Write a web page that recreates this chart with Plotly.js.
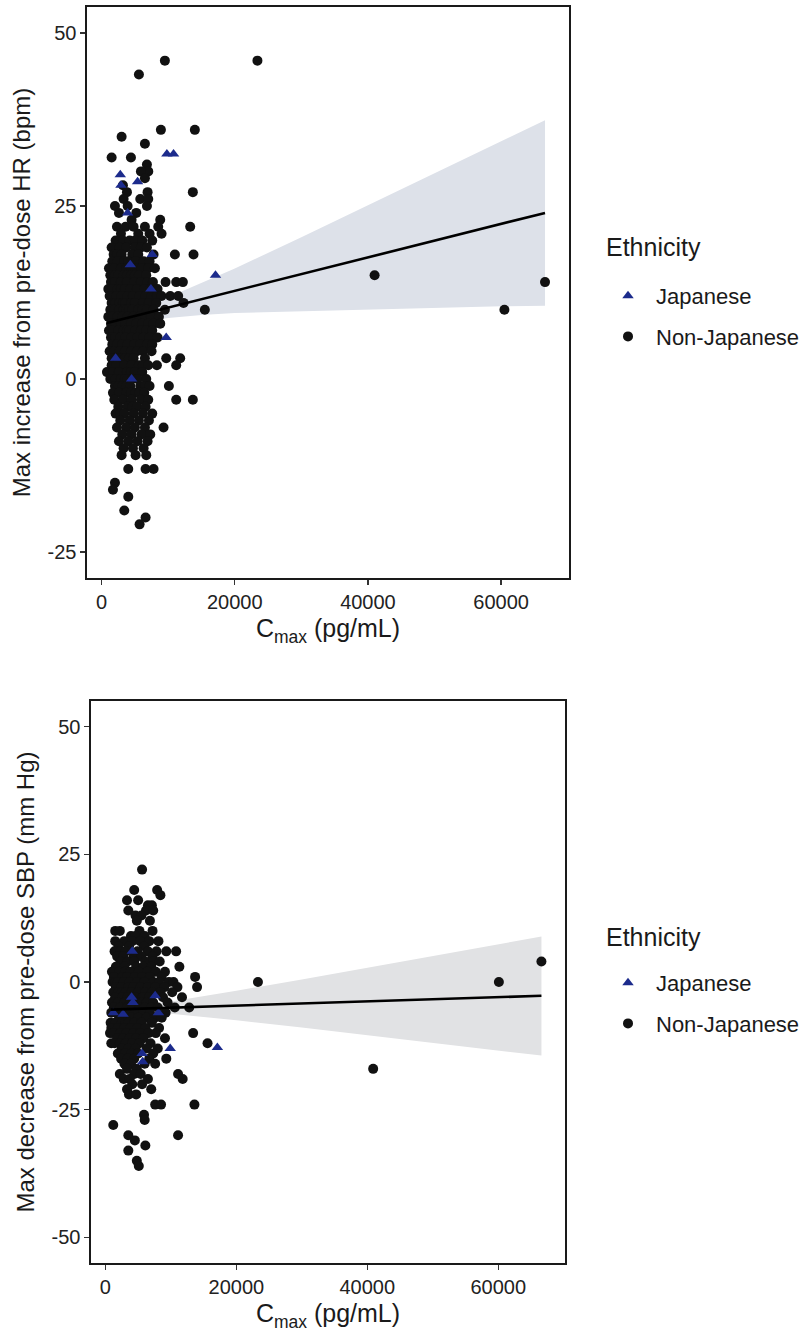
<!DOCTYPE html>
<html>
<head>
<meta charset="utf-8">
<script src="https://cdn.plot.ly/plotly-3.0.1.min.js"></script>
<style>
  html, body { margin: 0; padding: 0; background: #ffffff; }
  #chart { width: 809px; height: 1333px; }
</style>
</head>
<body>
<div id="chart"></div>
<script>
// ---- Heart rate panel: max increase from pre-dose HR (bpm) vs Cmax (pg/mL) ----
// Non-Japanese subjects, grouped by HR change: [bpm, [Cmax values]]
const hrNonJapaneseRows = [
  [46, [9500, 23400]],
  [44, [5600]],
  [36, [8900, 14000]],
  [35, [3000]],
  [34, [6500]],
  [32, [1500, 4400]],
  [31, [6800]],
  [30, [7000, 5900]],
  [29, [6500]],
  [28, [3200]],
  [27, [3800, 6900, 13700]],
  [26, [3300, 5800, 7000]],
  [25, [2000, 3900, 6800]],
  [24, [2600, 5200]],
  [23, [4500, 8800]],
  [22, [2300, 3600, 4800, 6500, 8500, 13300]],
  [21, [2900, 5500, 7200, 9000]],
  [20, [2100, 3200, 4200, 5000, 6100, 7600]],
  [19, [1500, 2700, 3700, 5000, 5900, 6800]],
  [18, [1800, 2300, 3000, 4600, 5500, 7800, 11000, 13800]],
  [17, [1600, 2400, 3400, 4000, 5100, 6300, 7200]],
  [16, [1100, 1900, 2900, 3700, 4400, 5100, 6000, 7000, 8000]],
  [15, [1300, 2000, 2500, 3300, 3800, 4400, 5000, 5600, 6700, 41000]],
  [14, [1400, 2000, 2900, 3800, 4900, 5900, 6900, 7700, 9600, 11200, 12200, 66600]],
  [13, [1000, 1600, 2400, 2900, 3500, 4300, 5300, 6400, 7300, 8400]],
  [12, [1200, 2200, 3000, 3900, 4700, 5700, 6600, 7500, 8300, 9000, 10300, 11500]],
  [11, [1500, 2100, 2700, 3200, 3600, 4500, 5000, 6200, 7100, 8200, 12300]],
  [10, [1300, 1900, 2600, 3300, 3700, 4100, 4600, 5500, 6100, 6800, 7800, 9500, 15500, 60500]],
  [9, [1000, 1600, 2400, 3100, 3900, 4800, 5700, 6600, 7400, 8600]],
  [8, [1400, 2100, 2900, 3600, 4400, 5200, 6100, 7000, 7800, 8800]],
  [7, [1100, 1700, 2500, 3300, 3800, 4200, 5100, 5900, 6700, 7600]],
  [6, [1400, 2000, 2800, 3600, 4500, 5400, 6300, 7200, 8400]],
  [5, [1600, 2300, 3100, 3900, 4900, 5800, 6800, 7600]],
  [4, [1200, 1900, 2700, 3500, 4400, 5300, 6200, 7500]],
  [3, [1500, 2200, 2900, 3500, 4100, 4800, 6500, 9700, 11800]],
  [2, [1500, 2200, 3400, 4500, 5600, 6200, 7000, 8300, 11200]],
  [1, [800, 1700, 2600, 3800, 4400, 5000, 6100]],
  [0, [1300, 2100, 2900, 3500, 3900, 4600, 5400, 6700]],
  [-1, [2000, 2500, 3100, 3700, 4300, 5800, 6500, 7200, 10100]],
  [-2, [1700, 2600, 3700, 4400, 5100, 5700, 6400]],
  [-3, [1900, 3200, 4500, 5900, 7000, 11200, 13700]],
  [-4, [2500, 3900, 4600, 5300, 6600]],
  [-5, [2100, 2800, 3400, 4800, 6200, 7600]],
  [-6, [2800, 4200, 5600, 7100]],
  [-7, [2300, 3700, 5000, 6500, 9300]],
  [-8, [3100, 4500, 6000, 7300]],
  [-9, [2600, 4000, 5400, 6900]],
  [-10, [3300, 4700, 6300]],
  [-11, [3000, 5100, 6700]],
  [-13, [4000, 6600, 7800]],
  [-15, [2000]],
  [-16, [1700]],
  [-17, [4000]],
  [-19, [3400]],
  [-20, [6600]],
  [-21, [5700]]
];
// Japanese subjects
const hrJapaneseCmax = [2800, 2900, 5400, 3900, 7600, 4300, 7400, 9700, 2100, 4500, 9800, 10800, 17100];
const hrJapaneseChange = [29.5, 28, 28.5, 24, 18, 16.5, 13, 6, 3, 0, 32.5, 32.5, 15];
// Linear fit and its 95% confidence band
const hrFitCmax = [800, 66600];
const hrFitValue = [8.1, 24.0];
const hrBandCmax = [800, 5000, 10000, 15000, 20000, 30000, 40000, 50000, 60000, 66600];
const hrBandLower = [6.7, 8.1, 8.8, 9.25, 9.55, 9.8, 10.0, 10.2, 10.5, 10.6];
const hrBandUpper = [9.5, 10.1, 11.8, 13.85, 15.95, 20.5, 25.1, 29.7, 34.3, 37.4];

// ---- Blood pressure panel: max decrease from pre-dose SBP (mm Hg) vs Cmax ----
const sbpNonJapaneseRows = [
  [22, [5600]],
  [18, [4400, 7900]],
  [17, [8400]],
  [16, [3300, 5000]],
  [15, [6500, 7100]],
  [14, [3500, 6200, 7300]],
  [13, [4600, 5500]],
  [12, [4800, 6800]],
  [10, [1500, 2200, 5200, 7200]],
  [9, [3900, 4600, 6000]],
  [8, [1500, 2900, 4100, 5300, 6700, 8100]],
  [7, [2000, 3600, 5900]],
  [6, [1400, 2300, 3100, 4900, 6500, 7800, 9300, 10800]],
  [5, [1800, 2700, 4300, 5500, 7200]],
  [4, [2300, 3400, 4400, 6100, 7300, 8300, 66600]],
  [3, [1600, 2900, 4700, 5800, 7000, 11300]],
  [2, [1000, 2100, 3000, 3800, 5100, 6400, 7700, 9100]],
  [1, [1300, 2600, 3300, 4500, 5600, 6800, 8600, 13700]],
  [0, [1100, 1500, 1900, 2800, 3700, 4900, 5900, 7300, 8200, 9700, 10400, 23300, 60100]],
  [-1, [1600, 2400, 3500, 4300, 5400, 6500, 7600, 9000, 11000, 14000]],
  [-2, [1200, 2000, 2500, 3100, 4000, 5000, 6100, 7100, 8400, 10200]],
  [-3, [1500, 2600, 3400, 4600, 5700, 6700, 8800, 11700]],
  [-4, [1000, 1900, 2900, 3800, 4800, 5500, 6300, 7300, 9500]],
  [-5, [1300, 2300, 3300, 4200, 5200, 6000, 7000, 8000, 10600, 12800]],
  [-6, [900, 1700, 2700, 3600, 4500, 5800, 6800, 9200]],
  [-7, [2100, 3000, 4000, 5000, 6300, 7500, 8600]],
  [-8, [800, 1500, 2500, 3000, 3500, 4400, 5500, 7100]],
  [-9, [900, 1900, 2900, 3800, 4900, 6100, 8200]],
  [-10, [700, 1200, 2300, 3200, 4300, 5300, 6600, 7700, 13400]],
  [-11, [1800, 2700, 3700, 4700, 5800, 9100]],
  [-12, [900, 1400, 2200, 3100, 4100, 5200, 6900, 15600]],
  [-13, [2500, 3500, 4600, 6300, 8000]],
  [-14, [1900, 3000, 4000, 5000, 7300]],
  [-15, [2400, 3400, 4400, 6700, 9300]],
  [-16, [2900, 3900, 6000, 7600]],
  [-17, [3300, 4800, 40900]],
  [-18, [2200, 4400, 5400, 11100]],
  [-19, [2800, 3700, 6500, 11800]],
  [-20, [4100, 5600]],
  [-21, [3300, 7000]],
  [-22, [3600, 4700]],
  [-24, [7600, 8500, 13600]],
  [-26, [5900]],
  [-27, [6000]],
  [-28, [1200]],
  [-30, [3500, 11100]],
  [-31, [4500]],
  [-32, [6100]],
  [-33, [3500]],
  [-35, [4800]],
  [-36, [5100]]
];
const sbpJapaneseCmax = [4100, 2700, 4000, 4200, 7600, 8100, 9900, 5600, 5700, 1200, 17100];
const sbpJapaneseChange = [6, -6.3, -3, -4, -2.7, -6, -13, -14, -15.6, -6, -12.8];
const sbpFitCmax = [800, 66600];
const sbpFitValue = [-5.4, -2.7];
const sbpBandCmax = [800, 5000, 10000, 15000, 20000, 30000, 40000, 50000, 60000, 66600];
const sbpBandLower = [-6.5, -6.0, -6.2, -6.8, -7.5, -8.9, -10.4, -11.9, -13.4, -14.4];
const sbpBandUpper = [-4.3, -4.4, -3.8, -2.8, -1.7, 0.5, 2.8, 5.1, 7.4, 8.9];

// ---- Axis ticks and labels ----
const cmaxTicks = [0, 20000, 40000, 60000];
const cmaxTickText = ['0', '20000', '40000', '60000'];
const hrTicks = [-25, 0, 25, 50];
const sbpTicks = [-50, -25, 0, 25, 50];
const groupNames = ['Japanese', 'Non-Japanese'];
const legendTitle = 'Ethnicity';
const xTitle = 'C<sub>max</sub> (pg/mL)';
const hrTitle = 'Max increase from pre-dose HR (bpm)';
const sbpTitle = 'Max decrease from pre-dose SBP (mm Hg)';

function flattenRows(rows) {
  const xs = [], ys = [];
  rows.forEach(([y, list]) => list.forEach(x => { xs.push(x); ys.push(y); }));
  return { x: xs, y: ys };
}

const FONT = 'Liberation Sans, Arial, Helvetica, sans-serif';
const INK = '#1a1a1a';
const JP_COLOR = '#1c2b8c';
const NJ_COLOR = '#111111';

function panelTraces(suffix, legendId, rows, jpX, jpY, fitX, fitY, bandX, bandLo, bandHi, bandColor) {
  const nj = flattenRows(rows);
  const xa = 'x' + suffix, ya = 'y' + suffix;
  return [
    { x: bandX, y: bandLo, xaxis: xa, yaxis: ya, type: 'scatter', mode: 'lines',
      line: { width: 0, color: bandColor }, showlegend: false, hoverinfo: 'skip' },
    { x: bandX, y: bandHi, xaxis: xa, yaxis: ya, type: 'scatter', mode: 'lines',
      fill: 'tonexty', fillcolor: bandColor, line: { width: 0, color: bandColor },
      showlegend: false, hoverinfo: 'skip' },
    { x: nj.x, y: nj.y, xaxis: xa, yaxis: ya, type: 'scatter', mode: 'markers',
      name: groupNames[1], legend: legendId, legendrank: 2, legendgroup: 'nj' + suffix,
      marker: { symbol: 'circle', size: 10, color: NJ_COLOR } },
    { x: jpX, y: jpY, xaxis: xa, yaxis: ya, type: 'scatter', mode: 'markers',
      name: groupNames[0], legend: legendId, legendrank: 1, legendgroup: 'jp' + suffix,
      marker: { symbol: 'triangle-up', size: 10, color: JP_COLOR } },
    { x: fitX, y: fitY, xaxis: xa, yaxis: ya, type: 'scatter', mode: 'lines',
      line: { color: '#000000', width: 2.6 }, showlegend: false, hoverinfo: 'skip' }
  ];
}

const data = [].concat(
  panelTraces('', 'legend', hrNonJapaneseRows, hrJapaneseCmax, hrJapaneseChange,
    hrFitCmax, hrFitValue, hrBandCmax, hrBandLower, hrBandUpper, '#dde1e9'),
  panelTraces('2', 'legend2', sbpNonJapaneseRows, sbpJapaneseCmax, sbpJapaneseChange,
    sbpFitCmax, sbpFitValue, sbpBandCmax, sbpBandLower, sbpBandUpper, '#e1e2e4')
);

const W = 809, H = 1333;
function xAxis(domain, anchor) {
  return {
    domain: domain, anchor: anchor, range: [-2200, 70200],
    tickvals: cmaxTicks, ticktext: cmaxTickText,
    ticks: 'outside', ticklen: 5, tickwidth: 1.2, tickcolor: '#333333',
    showline: true, mirror: true, linecolor: INK, linewidth: 1.6,
    showgrid: false, zeroline: false,
    tickfont: { size: 20, color: '#222222' },
    title: { text: xTitle, font: { size: 25, color: INK }, standoff: 8 }
  };
}
function yAxis(domain, anchor, range, ticks, title) {
  return {
    domain: domain, anchor: anchor, range: range,
    tickvals: ticks, ticktext: ticks.map(String),
    ticks: 'outside', ticklen: 5, tickwidth: 1.2, tickcolor: '#333333',
    showline: true, mirror: true, linecolor: INK, linewidth: 1.6,
    showgrid: false, zeroline: false,
    tickfont: { size: 20, color: '#222222' },
    title: { text: title, font: { size: 24, color: INK }, standoff: 10 }
  };
}
function legendBox(top) {
  return {
    x: 600 / W, xanchor: 'left', y: 1 - top / H, yanchor: 'top',
    bgcolor: 'rgba(0,0,0,0)', borderwidth: 0,
    font: { size: 22, color: INK }, traceorder: 'grouped', tracegroupgap: 9,
    itemwidth: 46
  };
}
function legendHeading(yPx) {
  return {
    text: legendTitle, xref: 'paper', yref: 'paper',
    x: 604 / W, xanchor: 'left', y: 1 - yPx / H, yanchor: 'middle',
    showarrow: false, font: { size: 25, color: INK }
  };
}

const layout = {
  width: W, height: H,
  margin: { l: 0, r: 0, t: 0, b: 0 },
  paper_bgcolor: '#ffffff', plot_bgcolor: '#ffffff',
  font: { family: FONT, color: INK },
  showlegend: true,
  xaxis: xAxis([87 / W, 569 / W], 'y'),
  yaxis: yAxis([1 - 578 / H, 1 - 7 / H], 'x', [-28.75, 53.75], hrTicks, hrTitle),
  xaxis2: xAxis([91 / W, 565 / W], 'y2'),
  yaxis2: yAxis([1 - 1263 / H, 1 - 701 / H], 'x2', [-55, 55], sbpTicks, sbpTitle),
  legend: legendBox(275),
  legend2: legendBox(962),
  annotations: [legendHeading(247), legendHeading(937)]
};

Plotly.newPlot('chart', data, layout, { displayModeBar: false, staticPlot: true });
</script>
</body>
</html>
